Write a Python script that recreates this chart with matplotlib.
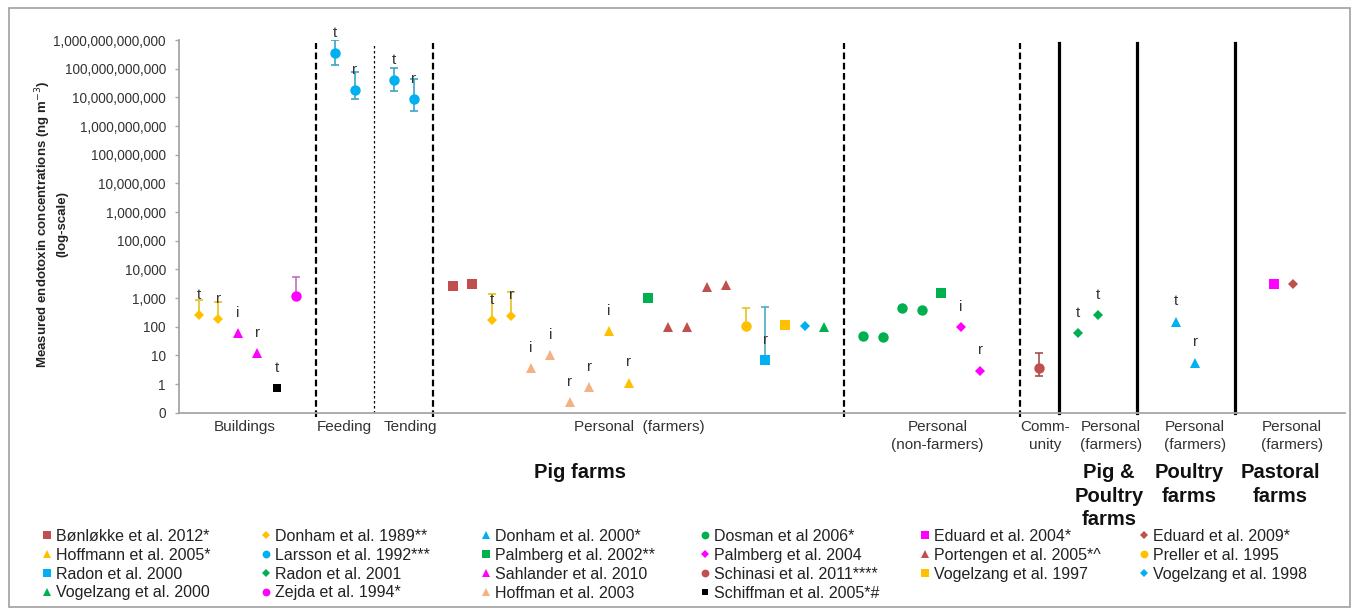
import matplotlib
matplotlib.use("Agg")
import matplotlib.pyplot as plt
from matplotlib.ticker import FuncFormatter, FixedLocator, NullLocator
from matplotlib.patches import Rectangle

plt.rcParams['font.family'] = ['Liberation Sans', 'DejaVu Sans']

# ---------------- data (x = category slot, y = ng m-3) ----------------
bonlokke_x = [13, 14]
bonlokke_y = [2550, 3080]

donham1989_x = [0, 1, 15, 16]
donham1989_y = [250, 190, 174, 245]
donham1989_hi = [870, 740, 1400, 1580]
donham1989_tag = ['t', 'r', 't', 'r']

donham2000_x = [50, 51]
donham2000_y = [151, 5.6]
donham2000_tag = ['t', 'r']

dosman_x = [34, 35, 36, 37]
dosman_y = [48, 43, 447, 370]

eduard2004_x = [55]
eduard2004_y = [3090]

eduard2009_x = [56]
eduard2009_y = [3090]

hoffmann2005_x = [21, 22]
hoffmann2005_y = [72, 1.12]
hoffmann2005_tag = ['i', 'r']

larsson_x = [7, 8, 10, 11]
larsson_y = [3.5e11, 1.8e10, 4.0e10, 8.5e9]
larsson_lo = [1.3e11, 8.5e9, 1.6e10, 3.3e9]
larsson_hi = [1.0e12, 7.7e10, 1.07e11, 4.3e10]
larsson_tag = ['t', 'r', 't', 'r']

palmberg2002_x = [23, 38]
palmberg2002_y = [1000, 1490]

palmberg2004_x = [39, 40]
palmberg2004_y = [97, 2.95]
palmberg2004_tag = ['i', 'r']

portengen_x = [24, 25, 26, 27]
portengen_y = [97, 97, 2400, 2750]

preller_x = [28]
preller_y = [102]
preller_hi = [447]

radon2000_x = [29]
radon2000_y = [6.9]
radon2000_hi = [470]
radon2000_tag = ['r']

radon2001_x = [45, 46]
radon2001_y = [60, 262]
radon2001_tag = ['t', 't']

sahlander_x = [2, 3]
sahlander_y = [61, 12.3]
sahlander_tag = ['i', 'r']

schinasi_x = [43]
schinasi_y = [3.7]
schinasi_lo = [1.96]
schinasi_hi = [12.5]

vogelzang1997_x = [30]
vogelzang1997_y = [114]

vogelzang1998_x = [31]
vogelzang1998_y = [107]

vogelzang2000_x = [32]
vogelzang2000_y = [97]

zejda_x = [5]
zejda_y = [1180]
zejda_hi = [5500]

hoffman2003_x = [17, 18, 19, 20]
hoffman2003_y = [3.6, 10.4, 0.24, 0.81]
hoffman2003_tag = ['i', 'i', 'r', 'r']

schiffman_x = [4]
schiffman_y = [0.72]
schiffman_tag = ['t']

dashed_at = [6, 12, 33, 42]
dotted_at = [9]
solid_at = [44, 48, 53]

ytick_values = [10.0 ** k for k in range(-1, 13)]

# ---------------- styles ----------------
RED = '#c0504d'
GOLD = '#ffc000'
BLUE = '#00b0f0'
GREEN = '#00b050'
MAG = '#ff00ff'
PEACH = '#f4b183'

# label, x, y, marker, color, size, tags, lo, hi, errcolor
series = [
    ('Bønløkke et al. 2012*', bonlokke_x, bonlokke_y, 's', RED, 7.3, None, None, None, None),
    ('Donham et al. 1989**', donham1989_x, donham1989_y, 'D', GOLD, 5.0, donham1989_tag, None, donham1989_hi, '#e8c020'),
    ('Donham et al. 2000*', donham2000_x, donham2000_y, '^', BLUE, 7.6, donham2000_tag, None, None, None),
    ('Dosman et al 2006*', dosman_x, dosman_y, 'o', GREEN, 7.5, None, None, None, None),
    ('Eduard et al. 2004*', eduard2004_x, eduard2004_y, 's', MAG, 7.3, None, None, None, None),
    ('Eduard et al. 2009*', eduard2009_x, eduard2009_y, 'D', RED, 5.0, None, None, None, None),
    ('Hoffmann et al. 2005*', hoffmann2005_x, hoffmann2005_y, '^', GOLD, 7.6, hoffmann2005_tag, None, None, None),
    ('Larsson et al. 1992***', larsson_x, larsson_y, 'o', BLUE, 7.5, larsson_tag, larsson_lo, larsson_hi, '#3aa6c8'),
    ('Palmberg et al. 2002**', palmberg2002_x, palmberg2002_y, 's', GREEN, 7.3, None, None, None, None),
    ('Palmberg et al. 2004', palmberg2004_x, palmberg2004_y, 'D', MAG, 5.0, palmberg2004_tag, None, None, None),
    ('Portengen et al. 2005*^', portengen_x, portengen_y, '^', RED, 7.6, None, None, None, None),
    ('Preller et al. 1995', preller_x, preller_y, 'o', GOLD, 7.5, None, None, preller_hi, '#e8c020'),
    ('Radon et al. 2000', radon2000_x, radon2000_y, 's', BLUE, 7.3, radon2000_tag, None, radon2000_hi, '#4bacc6'),
    ('Radon et al. 2001', radon2001_x, radon2001_y, 'D', GREEN, 5.0, radon2001_tag, None, None, None),
    ('Sahlander et al. 2010', sahlander_x, sahlander_y, '^', MAG, 7.6, sahlander_tag, None, None, None),
    ('Schinasi et al. 2011****', schinasi_x, schinasi_y, 'o', RED, 7.5, None, schinasi_lo, schinasi_hi, '#a05050'),
    ('Vogelzang et al. 1997', vogelzang1997_x, vogelzang1997_y, 's', GOLD, 7.3, None, None, None, None),
    ('Vogelzang et al. 1998', vogelzang1998_x, vogelzang1998_y, 'D', BLUE, 5.0, None, None, None, None),
    ('Vogelzang et al. 2000', vogelzang2000_x, vogelzang2000_y, '^', GREEN, 7.6, None, None, None, None),
    ('Zejda et al. 1994*', zejda_x, zejda_y, 'o', MAG, 7.5, None, None, zejda_hi, '#c070c0'),
    ('Hoffman et al. 2003', hoffman2003_x, hoffman2003_y, '^', PEACH, 7.6, hoffman2003_tag, None, None, None),
    ('Schiffman et al. 2005*#', schiffman_x, schiffman_y, 's', 'black', 5.5, schiffman_tag, None, None, None),
]

W, H = 1354, 609
fig = plt.figure(figsize=(W / 100, H / 100), dpi=100)


def fx(px):
    return px / W


def fy(py):
    return 1 - py / H


ax_left, ax_right, ax_top, ax_bot = 179, 1345, 40, 412.7
ax = fig.add_axes([fx(ax_left), fy(ax_bot), (ax_right - ax_left) / W, (ax_bot - ax_top) / H])
ax.set_yscale('log')
ax.set_ylim(0.1, 1e12)
ax.set_xlim(-1.0, 58.65)

TXT = '#333333'
handles = []
for (label, xs, ys, mk, col, ms, tags, lo, hi, ecol) in series:
    if hi is not None:
        lower = [0 if lo is None else y - l for y, l in zip(ys, lo if lo is not None else ys)]
        upper = [h - y for y, h in zip(ys, hi)]
        ax.errorbar(xs, ys, yerr=[lower, upper], fmt='none', ecolor=ecol,
                    elinewidth=1.2, capsize=3.2, capthick=1.2, zorder=2)
    h, = ax.plot(xs, ys, linestyle='none', marker=mk, ms=ms, color=col,
                 markeredgewidth=0, label=label, zorder=3)
    handles.append(h)
    if tags:
        for x, y, t in zip(xs, ys, tags):
            if t:
                ax.annotate(t, (x, y), xytext=(0, 14.5), textcoords='offset points',
                            ha='center', va='center', fontsize=11, color=TXT, zorder=4)

# divider lines
for xv in dashed_at:
    ax.axvline(xv, ymin=-0.012, ymax=0.992, color='black', lw=1.6,
               linestyle=(0, (3, 1.6)), clip_on=False, zorder=1)
for xv in dotted_at:
    ax.axvline(xv, ymin=0.0, ymax=0.99, color='black', lw=0.9,
               linestyle=(0, (2, 2)), clip_on=False, zorder=1)
for xv in solid_at:
    ax.axvline(xv, ymin=0.0, ymax=0.992, color='black', lw=2.3,
               linestyle='-', clip_on=False, zorder=1)

# axes styling
for s in ['top', 'right']:
    ax.spines[s].set_visible(False)
for s in ['left', 'bottom']:
    ax.spines[s].set_color('#a6a6a6')
    ax.spines[s].set_linewidth(1.3)
ax.yaxis.set_major_locator(FixedLocator(ytick_values))
ax.yaxis.set_minor_locator(NullLocator())
ax.yaxis.set_major_formatter(FuncFormatter(lambda v, p: f"{v:,.0f}"))
ax.tick_params(axis='y', length=3, width=1, color='#a6a6a6', pad=6.5,
               labelsize=9.8, labelcolor=TXT)
ax.set_xticks([])

# y label
fig.text(fx(51), fy(224), "Measured endotoxin concentrations (ng m$^{-3}$)\n(log-scale)",
         rotation=90, ha='center', va='center', multialignment='center',
         fontsize=9.5, fontweight='bold', color='#222222', linespacing=1.3)

# category labels
cat_labels = [
    ("Buildings", 245), ("Feeding", 344.5), ("Tending", 410),
    ("Personal  (farmers)", 639), ("Personal\n(non-farmers)", 937.5),
    ("Comm-\nunity", 1045), ("Personal\n(farmers)", 1111),
    ("Personal\n(farmers)", 1195), ("Personal\n(farmers)", 1292),
]
for txt, px in cat_labels:
    fig.text(fx(px), fy(420), txt, ha='center', va='top', multialignment='center',
             fontsize=11, color=TXT, linespacing=1.38)

group_labels = [
    ("Pig farms", 580), ("Pig &\nPoultry\nfarms", 1109),
    ("Poultry\nfarms", 1189), ("Pastoral\nfarms", 1280),
]
for txt, px in group_labels:
    fig.text(fx(px), fy(463), txt, ha='center', va='top', multialignment='center',
             fontsize=14.5, fontweight='bold', color='#111111', linespacing=1.3)

# legend: 6 columns, row-major order like the reference
fs_leg = 11.5
for c in range(6):
    col_handles = handles[c::6]
    mcenter = 46.7 + c * 219.5
    left = mcenter - 0.8 * fs_leg * 100 / 72 / 2
    fig.legend(handles=col_handles, labels=[h.get_label() for h in col_handles],
               loc='upper left', bbox_to_anchor=(fx(left), fy(529)),
               frameon=False, fontsize=fs_leg, handlelength=0.8, handletextpad=0.18,
               borderpad=0, borderaxespad=0, labelspacing=0.24, markerscale=0.75,
               numpoints=1, labelcolor='#222222')

# figure border
fig.patches.append(Rectangle((fx(9), fy(607)), fx(1350) - fx(9), fy(8) - fy(607),
                             transform=fig.transFigure, fill=False,
                             edgecolor='#a0a0a0', lw=1.2))

fig.savefig('out.png', dpi=100)
